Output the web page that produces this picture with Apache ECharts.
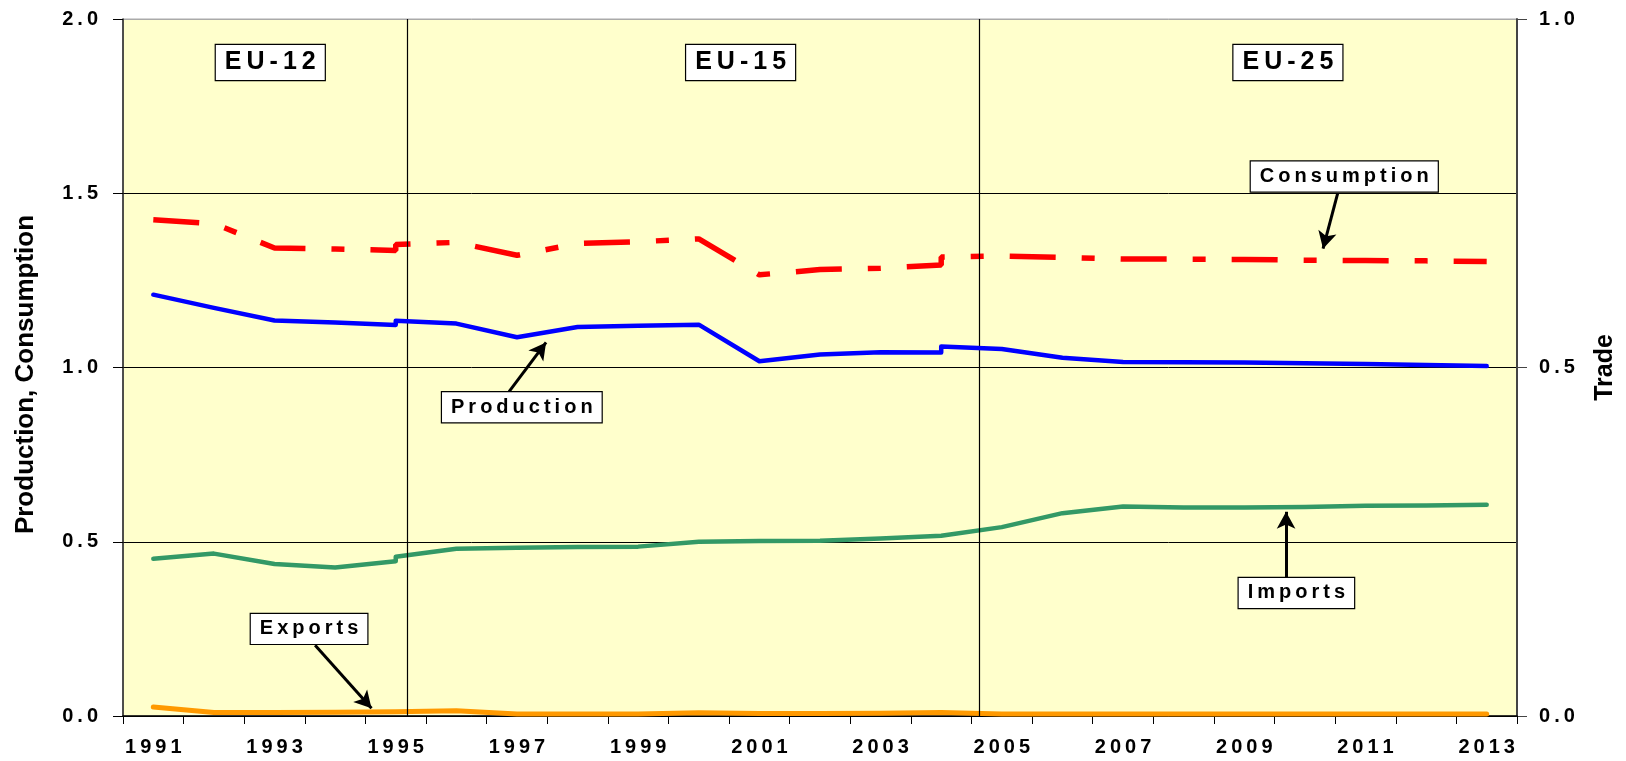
<!DOCTYPE html>
<html><head><meta charset="utf-8">
<script src="https://cdn.jsdelivr.net/npm/echarts@6/dist/echarts.min.js"></script>
<style>html,body{margin:0;padding:0;background:#fff}#c{width:1626px;height:761px}</style>
</head><body><div id="c"></div>
<script>
// Category labels
const years = [1991,1992,1993,1994,1995,1996,1997,1998,1999,2000,2001,2002,2003,2004,2005,2006,2007,2008,2009,2010,2011,2012,2013];
// Segment years (EU-12, EU-15, EU-25)
const yearsEU12 = [1991,1992,1993,1994,1995];
const yearsEU15 = [1995,1996,1997,1998,1999,2000,2001,2002,2003,2004];
const yearsEU25 = [2004,2005,2006,2007,2008,2009,2010,2011,2012,2013];
// Production (left axis)
const productionEU12 = [1.209,1.171,1.135,1.129,1.122];
const productionEU15 = [1.134,1.126,1.087,1.116,1.120,1.123,1.018,1.037,1.044,1.043];
const productionEU25 = [1.060,1.053,1.028,1.016,1.015,1.014,1.012,1.010,1.007,1.004];
// Consumption (left axis)
const consumptionEU12 = [1.424,1.413,1.343,1.340,1.336];
const consumptionEU15 = [1.353,1.359,1.322,1.356,1.361,1.369,1.266,1.281,1.285,1.294];
const consumptionEU25 = [1.317,1.320,1.316,1.311,1.311,1.310,1.308,1.307,1.306,1.304];
// Imports (right axis, Trade)
const importsEU12 = [0.2255,0.233,0.218,0.213,0.222];
const importsEU15 = [0.2285,0.240,0.2415,0.2425,0.243,0.250,0.251,0.2515,0.2545,0.2585];
const importsEU25 = [0.2585,0.271,0.291,0.3005,0.299,0.299,0.300,0.3015,0.302,0.303];
// Exports (right axis, Trade)
const exportsEU12 = [0.013,0.005,0.005,0.0055,0.006];
const exportsEU15 = [0.006,0.0075,0.003,0.003,0.003,0.0045,0.0035,0.0035,0.004,0.005];
const exportsEU25 = [0.003,0.003,0.003,0.003,0.003,0.003,0.003,0.003,0.003,0.003];
// Region boundaries (year position) and labels
const boundaries = [1995.19, 2004.63];
const regionLabels = ['EU-12','EU-15','EU-25'];
const regionLabelX = [1992.93, 2000.69, 2009.72];
const regionLabelY = 1.875;
// Series annotations (left-axis units): label, box centre, arrow tail, arrow head
const notes = [
  {text:'Consumption', box:[2010.65,1.548], tail:[2010.54,1.499], head:[2010.30,1.341]},
  {text:'Production',  box:[1997.08,0.886], tail:[1996.87,0.931], head:[1997.48,1.072]},
  {text:'Imports',     box:[2009.86,0.353], tail:[2009.69,0.397], head:[2009.69,0.586]},
  {text:'Exports',     box:[1993.57,0.250], tail:[1993.67,0.203], head:[1994.60,0.022]}
];

function join3(v12, v15, v25) {
  return yearsEU12.map((y,i)=>[y,v12[i]])
    .concat(yearsEU15.map((y,i)=>[y,v15[i]]))
    .concat(yearsEU25.map((y,i)=>[y,v25[i]]));
}
const thin = s => String(s).split('').join('\u2009');
const FONT = '"Liberation Sans", Arial, sans-serif';

const chart = echarts.init(document.getElementById('c'));
const labelStyle = {color:'#000', fontFamily:FONT, fontWeight:'bold', fontSize:20};

chart.setOption({
  animation:false,
  backgroundColor:'#fff',
  grid:{left:123, right:107, top:19, bottom:45, show:true, backgroundColor:'#FFFFCC', borderColor:'#aaa', borderWidth:1},
  xAxis:[
    {type:'category', data:years.map(String), boundaryGap:true,
     axisLine:{show:true, lineStyle:{color:'#000', width:1.5}},
     axisTick:{show:true, interval:0, length:8, lineStyle:{color:'#000', width:1}},
     axisLabel:Object.assign({interval:1, margin:21, formatter:v=>thin(v)}, labelStyle),
     splitLine:{show:false}},
    {type:'value', min:1990.5, max:2013.5, show:false}
  ],
  yAxis:[
    {type:'value', min:0, max:2, interval:0.5, position:'left',
     name:'Production, Consumption', nameLocation:'middle', nameGap:84, nameRotate:90,
     nameTextStyle:{color:'#000', fontFamily:FONT, fontWeight:'bold', fontSize:26, padding:[0,14,0,0]},
     axisLine:{show:true, lineStyle:{color:'#222', width:1.5}},
     axisTick:{show:true, length:10, lineStyle:{color:'#000'}},
     axisLabel:Object.assign({margin:25, formatter:v=>thin(v.toFixed(1))}, labelStyle),
     splitLine:{show:true, lineStyle:{color:['#000','#000','#000','#000','#aaa'], width:1}}},
    {type:'value', min:0, max:1, interval:0.5, position:'right',
     name:'Trade', nameLocation:'middle', nameGap:76, nameRotate:90,
     nameTextStyle:{color:'#000', fontFamily:FONT, fontWeight:'bold', fontSize:25},
     axisLine:{show:true, lineStyle:{color:'#444', width:2}},
     axisTick:{show:true, length:10, lineStyle:{color:'#444'}},
     axisLabel:Object.assign({margin:22, formatter:v=>thin(v.toFixed(1))}, labelStyle),
     splitLine:{show:false}}
  ],
  series:[
    {name:'Production', type:'line', xAxisIndex:1, yAxisIndex:0, showSymbol:false, symbol:'none',
     data:join3(productionEU12, productionEU15, productionEU25),
     lineStyle:{color:'#0000FF', width:4.5, cap:'round', join:'round'}, z:5,
     markLine:{silent:true, symbol:['none','arrow'], symbolSize:[14,17], label:{show:false},
       lineStyle:{color:'#000', width:3, type:'solid'},
       data:notes.map(n=>[{coord:n.tail},{coord:n.head}])}},
    {name:'Consumption', type:'line', xAxisIndex:1, yAxisIndex:0, showSymbol:false, symbol:'none',
     data:join3(consumptionEU12, consumptionEU15, consumptionEU25),
     lineStyle:{color:'#FF0000', width:5.5, type:[46,26,13,26], cap:'butt'}, z:4},
    {name:'Imports', type:'line', xAxisIndex:1, yAxisIndex:1, showSymbol:false, symbol:'none',
     data:join3(importsEU12, importsEU15, importsEU25),
     lineStyle:{color:'#339966', width:4.5, cap:'round', join:'round'}, z:4},
    {name:'Exports', type:'line', xAxisIndex:1, yAxisIndex:1, showSymbol:false, symbol:'none',
     data:join3(exportsEU12, exportsEU15, exportsEU25),
     lineStyle:{color:'#FF9900', width:5, cap:'round', join:'round'}, z:4,
     markLine:{silent:true, symbol:'none', label:{show:false},
       lineStyle:{color:'#000', width:1.2, type:'solid'},
       data:boundaries.map(b=>({xAxis:b}))}}
  ]
});

const px = p => chart.convertToPixel({seriesIndex:0}, p);
const graphics = [];
regionLabels.forEach((t,i)=>{
  const p = px([regionLabelX[i], regionLabelY]);
  graphics.push({type:'text', x:p[0], y:p[1], z:100,
    style:{text:thin(t), font:'bold 25px '+FONT, fill:'#000', align:'center', verticalAlign:'middle',
      backgroundColor:'#fff', borderColor:'#000', borderWidth:1.2, padding:[5,9,5,9]}});
});
notes.forEach(n=>{
  const p = px(n.box);
  graphics.push({type:'text', x:p[0], y:p[1], z:100,
    style:{text:thin(n.text), font:'bold 20px '+FONT, fill:'#000', align:'center', verticalAlign:'middle',
      backgroundColor:'#fff', borderColor:'#000', borderWidth:1.2, padding:[5,9,5,9]}});
});
chart.setOption({graphic:graphics});
</script>
</body></html>
